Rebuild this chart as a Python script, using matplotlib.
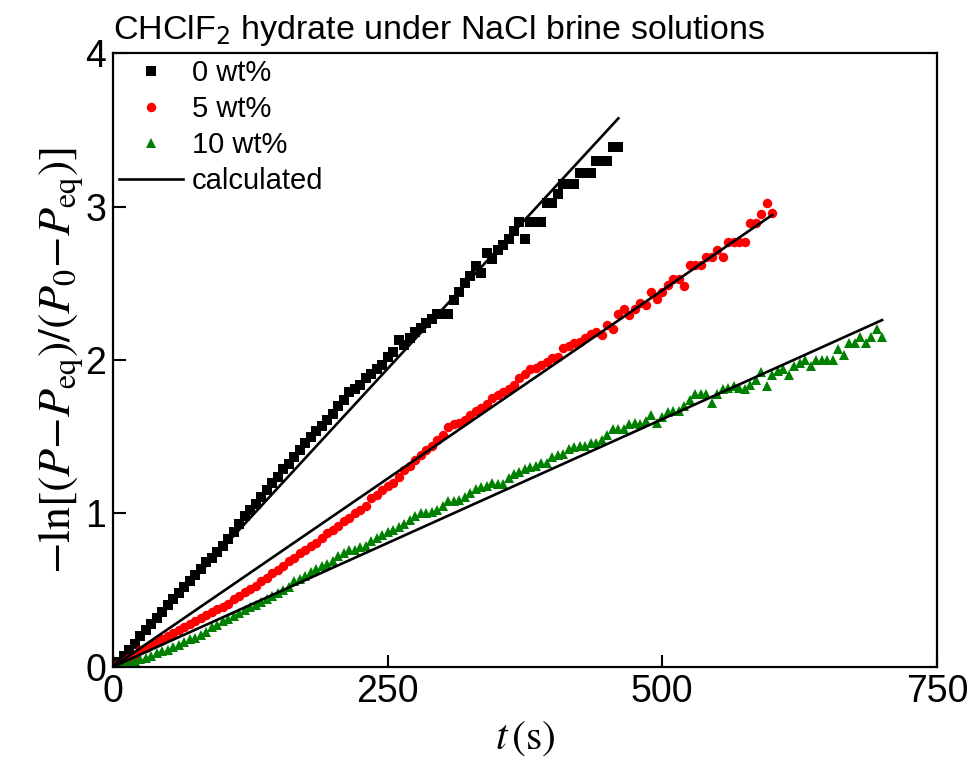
import numpy as np
import matplotlib
matplotlib.use("Agg")
import matplotlib.pyplot as plt

plt.rcParams["font.family"] = ["Liberation Sans", "DejaVu Sans"]
plt.rcParams["mathtext.fontset"] = "stix"

# sampling time of the pressure readings (s)
t_0 = np.arange(0, 461, 5)
t_5 = np.arange(0, 601, 5)
t_10 = np.arange(0, 701, 5)

# -ln[(P-Peq)/(P0-Peq)]
y_0 = [0.00, 0.03, 0.07, 0.11, 0.15, 0.20, 0.24, 0.28, 0.32, 0.36,
       0.40, 0.44, 0.48, 0.52, 0.56, 0.60, 0.64, 0.68, 0.71, 0.75,
       0.79, 0.83, 0.88, 0.93, 0.98, 1.02, 1.06, 1.11, 1.15, 1.20,
       1.24, 1.29, 1.32, 1.37, 1.41, 1.46, 1.50, 1.54, 1.57, 1.61,
       1.65, 1.70, 1.74, 1.79, 1.81, 1.84, 1.88, 1.91, 1.94, 1.97,
       2.02, 2.05, 2.13, 2.10, 2.14, 2.18, 2.21, 2.24, 2.27, 2.30,
       2.30, 2.30, 2.39, 2.44, 2.50, 2.55, 2.61, 2.57, 2.70, 2.66,
       2.72, 2.75, 2.79, 2.84, 2.90, 2.79, 2.90, 2.90, 2.90, 3.02,
       3.02, 3.08, 3.15, 3.15, 3.15, 3.22, 3.22, 3.22, 3.30, 3.30,
       3.30, 3.39, 3.39]

y_5 = [0.00, 0.02, 0.04, 0.06, 0.08, 0.11, 0.12, 0.14, 0.16, 0.18,
       0.20, 0.22, 0.24, 0.26, 0.28, 0.30, 0.32, 0.34, 0.36, 0.38,
       0.39, 0.41, 0.44, 0.46, 0.49, 0.51, 0.53, 0.56, 0.58, 0.61,
       0.63, 0.66, 0.69, 0.71, 0.74, 0.76, 0.79, 0.81, 0.84, 0.87,
       0.89, 0.92, 0.95, 0.97, 1.00, 1.02, 1.05, 1.10, 1.12, 1.15,
       1.18, 1.20, 1.24, 1.28, 1.31, 1.35, 1.38, 1.41, 1.44, 1.48,
       1.51, 1.56, 1.58, 1.59, 1.61, 1.64, 1.67, 1.69, 1.71, 1.75,
       1.77, 1.79, 1.81, 1.84, 1.88, 1.91, 1.94, 1.95, 1.97, 1.99,
       2.01, 2.02, 2.08, 2.09, 2.11, 2.12, 2.14, 2.17, 2.18, 2.16,
       2.23, 2.20, 2.30, 2.33, 2.29, 2.33, 2.37, 2.36, 2.44, 2.40,
       2.44, 2.49, 2.53, 2.53, 2.48, 2.62, 2.62, 2.62, 2.67, 2.67,
       2.72, 2.67, 2.77, 2.77, 2.77, 2.77, 2.89, 2.89, 2.95, 3.02,
       2.96]

y_10 = [0.00, 0.01, 0.02, 0.03, 0.04, 0.05, 0.06, 0.07, 0.09, 0.10,
        0.11, 0.13, 0.14, 0.16, 0.18, 0.19, 0.21, 0.23, 0.26, 0.27,
        0.30, 0.31, 0.33, 0.35, 0.37, 0.39, 0.40, 0.42, 0.44, 0.46,
        0.48, 0.50, 0.52, 0.56, 0.57, 0.59, 0.62, 0.64, 0.66, 0.67,
        0.69, 0.72, 0.74, 0.76, 0.76, 0.78, 0.79, 0.82, 0.84, 0.86,
        0.88, 0.89, 0.91, 0.93, 0.96, 0.98, 1.00, 1.00, 1.01, 1.02,
        1.05, 1.08, 1.08, 1.09, 1.11, 1.13, 1.16, 1.17, 1.18, 1.20,
        1.19, 1.19, 1.23, 1.26, 1.27, 1.29, 1.30, 1.31, 1.33, 1.33,
        1.37, 1.38, 1.39, 1.42, 1.43, 1.44, 1.44, 1.46, 1.46, 1.48,
        1.51, 1.55, 1.55, 1.55, 1.58, 1.59, 1.58, 1.60, 1.64, 1.59,
        1.63, 1.66, 1.67, 1.67, 1.70, 1.74, 1.78, 1.78, 1.78, 1.72,
        1.78, 1.81, 1.82, 1.83, 1.82, 1.81, 1.84, 1.87, 1.92, 1.83,
        1.90, 1.93, 1.94, 1.90, 1.96, 1.98, 2.00, 1.96, 2.00, 2.00,
        2.00, 2.00, 2.07, 2.03, 2.11, 2.11, 2.15, 2.11, 2.15, 2.20,
        2.15]

# calculated (model) lines: end points
calc_t = [[0, 460], [0, 600], [0, 700]]
calc_y = [[0, 3.575], [0, 2.945], [0, 2.26]]

fig = plt.figure(figsize=(9.74, 7.7), dpi=100)
ax = fig.add_axes([0.116, 0.134, 0.846, 0.797])

ax.plot(t_0, y_0, "s", color="black", ms=6.6, mew=0, label="0 wt%")
ax.plot(t_5, y_5, "o", color="red", ms=6.8, mew=0, label="5 wt%")
ax.plot(t_10, y_10, "^", color="green", ms=7.8, mew=0, label="10 wt%")
for i, (tt, yy) in enumerate(zip(calc_t, calc_y)):
    ax.plot(tt, yy, "-", color="black", lw=1.9,
            label="calculated" if i == 0 else None)

ax.set_xlim(0, 750)
ax.set_ylim(0, 4)
ax.set_xticks([0, 250, 500, 750])
ax.set_yticks([0, 1, 2, 3, 4])
ax.tick_params(direction="in", length=9, width=1.5, labelsize=27, pad=5)
for s in ax.spines.values():
    s.set_linewidth(1.6)

ax.set_xlabel(r"$t\,(\mathrm{s})$", fontsize=30, labelpad=6)
ax.set_ylabel(r"$-\ln[(P{-}P_{\mathrm{eq}})/(P_0{-}P_{\mathrm{eq}})]$",
              fontsize=33, labelpad=0)
ax.set_title(r"CHClF$_2$ hydrate under NaCl brine solutions",
             fontsize=24.5, loc="left", pad=10, x=0.0,
             math_fontfamily="dejavusans")

ax.legend(loc="upper left", frameon=False, fontsize=21, numpoints=1,
          handlelength=2.2, handletextpad=0.3, labelspacing=0.28,
          borderaxespad=0.05, borderpad=0.15)

fig.savefig("out.png", dpi=100)
